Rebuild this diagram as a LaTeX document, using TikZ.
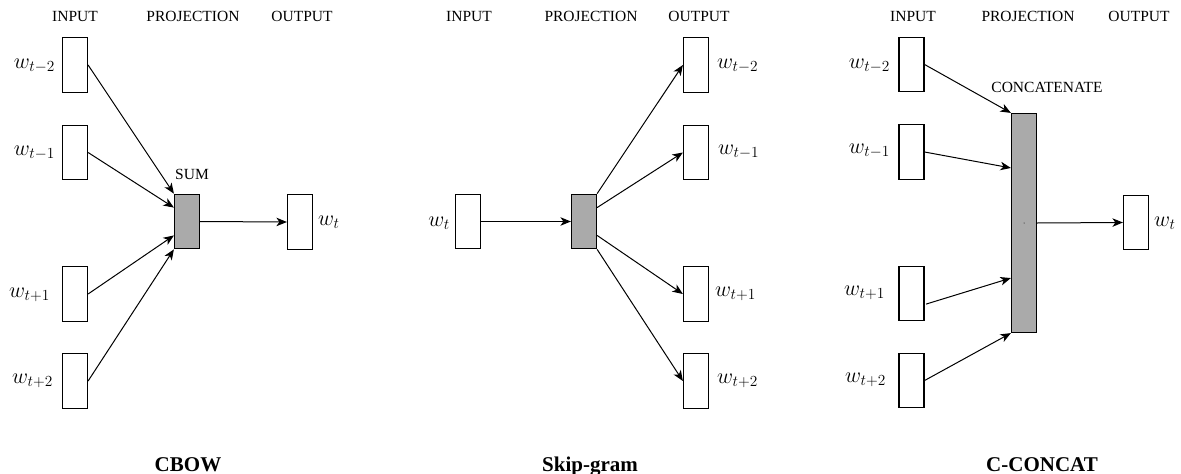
\RequirePackage{fix-cm}
\documentclass[tikz,border=0pt]{standalone}
\usepackage[no-math]{fontspec}
\setmainfont{Liberation Serif}
\usetikzlibrary{arrows.meta,calc}
\definecolor{projgray}{RGB}{170,170,170}
\tikzset{
 wbox/.style={draw, line width=1.2pt, minimum width=25pt, minimum height=54.5pt, inner sep=0pt, fill=white},
 pbox/.style={wbox, fill=projgray},
 hdr/.style={font=\fontsize{15.5}{18}\selectfont, anchor=base, inner sep=0pt},
 ttl/.style={font=\fontsize{21}{24}\selectfont\bfseries, anchor=base, inner sep=0pt},
 wl/.style={font=\fontsize{22}{26}\selectfont, inner sep=0pt},
 arr/.style={-{Stealth[length=10.5pt,width=8.5pt,inset=3pt]}, line width=1pt},
}
\begin{document}
\begin{tikzpicture}[x=1pt,y=-1pt]
\useasboundingbox (0,0) rectangle (1181,474);
% ---------------- CBOW ----------------
\node[hdr] (h1a) at (75,21.5) {INPUT};
\node[hdr] (h1b) at (193,21.5) {PROJECTION};
\node[hdr] (h1c) at (302,21.5) {OUTPUT};
\node[wbox] (a1) at (75,65) {};
\node[wbox] (a2) at (75,152.5) {};
\node[wbox] (a3) at (75,294) {};
\node[wbox] (a4) at (75,381) {};
\node[pbox] (asum) at (187,221.5) {};
\node[wbox] (aout) at (300,222) {};
\node[wl,anchor=base east] (la1) at (55,68) {$w_{t-2}$};
\node[wl,anchor=base east] (la2) at (55,155) {$w_{t-1}$};
\node[wl,anchor=base east] (la3) at (50,297) {$w_{t+1}$};
\node[wl,anchor=base east] (la4) at (53,383) {$w_{t+2}$};
\node[wl,anchor=base west] (laout) at (318,225) {$w_{t}$};
\node[hdr] (lsum) at (192,179) {SUM};
\node[ttl] (t1) at (188,471) {CBOW};
\draw[arr] (a1.east) -- (asum.north west);
\draw[arr] (a2.east) -- ($(asum.north west)!0.25!(asum.south west)$);
\draw[arr] (a3.east) -- ($(asum.north west)!0.75!(asum.south west)$);
\draw[arr] (a4.east) -- (asum.south west);
\draw[arr] (asum.east) -- (aout.west);
% ---------------- Skip-gram ----------------
\node[hdr] (h2a) at (469,21.5) {INPUT};
\node[hdr] (h2b) at (591,21.5) {PROJECTION};
\node[hdr] (h2c) at (699,21.5) {OUTPUT};
\node[wbox] (bin) at (468,221.5) {};
\node[pbox] (bproj) at (584,221.5) {};
\node[wbox] (b1) at (696,65) {};
\node[wbox] (b2) at (696,152.5) {};
\node[wbox] (b3) at (696,294) {};
\node[wbox] (b4) at (696,381) {};
\node[wl,anchor=base east] (lbin) at (450,226) {$w_{t}$};
\node[wl,anchor=base west] (lb1) at (717,68) {$w_{t-2}$};
\node[wl,anchor=base west] (lb2) at (718,154) {$w_{t-1}$};
\node[wl,anchor=base west] (lb3) at (715,296) {$w_{t+1}$};
\node[wl,anchor=base west] (lb4) at (717,383) {$w_{t+2}$};
\node[ttl] (t2) at (590,471) {Skip-gram};
\draw[arr] (bin.east) -- (bproj.west);
\draw[arr] (bproj.north east) -- (b1.west);
\draw[arr] ($(bproj.north east)!0.25!(bproj.south east)$) -- (b2.west);
\draw[arr] ($(bproj.north east)!0.75!(bproj.south east)$) -- (b3.west);
\draw[arr] (bproj.south east) -- (b4.west);
% ---------------- C-CONCAT ----------------
\node[hdr] (h3a) at (913,21.5) {INPUT};
\node[hdr] (h3b) at (1028,21.5) {PROJECTION};
\node[hdr] (h3c) at (1139,21.5) {OUTPUT};
\node[wbox] (c1) at (911.5,64.5) {};
\node[wbox] (c2) at (911.5,152) {};
\node[wbox] (c3) at (911.5,293.5) {};
\node[wbox] (c4) at (911.5,380.5) {};
\node[pbox,minimum height=219pt] (ccat) at (1024,223) {};
\node[wbox] (cout) at (1136,222.5) {};
\node[wl,anchor=base east] (lc1) at (890,68) {$w_{t-2}$};
\node[wl,anchor=base east] (lc2) at (890,153) {$w_{t-1}$};
\node[wl,anchor=base east] (lc3) at (885,295) {$w_{t+1}$};
\node[wl,anchor=base east] (lc4) at (886,382) {$w_{t+2}$};
\node[wl,anchor=base west] (lcout) at (1154,226) {$w_{t}$};
\node[hdr] (lcat) at (1047,92) {CONCATENATE};
\node[ttl] (t3) at (1042,471) {C-CONCAT};
\fill (ccat.center) circle (0.5pt);
\coordinate (c3s) at ($(c3.north east)!0.69!(c3.south east)+(1.5,0)$);
\draw[arr] (c1.east) -- (ccat.north west);
\draw[arr] (c2.east) -- ($(ccat.north west)!0.25!(ccat.south west)$);
\draw[arr] (c3s) -- ($(ccat.north west)!0.75!(ccat.south west)$);
\draw[arr] (c4.east) -- (ccat.south west);
\draw[arr] (ccat.east) -- (cout.west);
\end{tikzpicture}
\end{document}
